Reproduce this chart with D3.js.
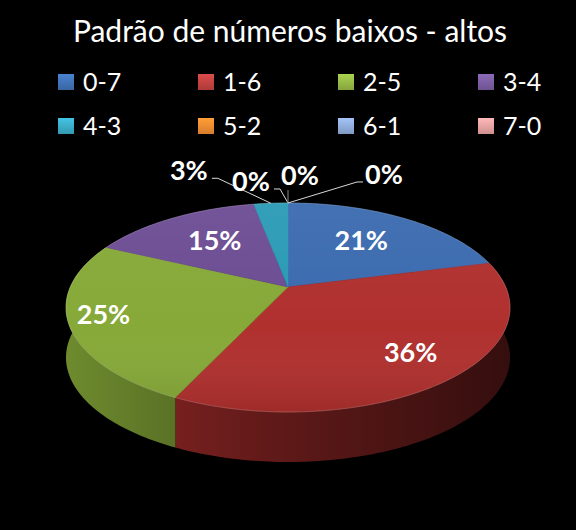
<!DOCTYPE html>
<html>
<head>
<meta charset="utf-8">
<script src="https://cdn.jsdelivr.net/npm/d3@7"></script>
<style>
  body { margin: 0; background: #000; }
  text { font-family: Lato, "Open Sans", sans-serif; fill: #fff; }
</style>
</head>
<body>
<div id="canvas"></div>
<script>
const title = "Padrão de números baixos - altos";
const categories = ["0-7", "1-6", "2-5", "3-4", "4-3", "5-2", "6-1", "7-0"];
const percents = [21, 36, 25, 15, 3, 0, 0, 0];
const pieColours = ["#3a6aaf", "#b0302e", "#86a938", "#6c4c93", "#2a9ab5", "#f0872e", "#8eaad8", "#e09c9a"];
const legendColours = ["#3f72b5", "#c0423f", "#94b845", "#7a5ca0", "#3aaac6", "#f08a30", "#8eaad8", "#e6a0a0"];

const width = 576;
const height = 530;

const svg = d3.select("#canvas").append("svg")
    .attr("width", width)
    .attr("height", height)
    .style("background", "#000");

// title
svg.append("text")
    .attr("x", 290)
    .attr("y", 42)
    .attr("text-anchor", "middle")
    .style("font-size", "30px")
    .text(title);

// legend, 4 columns x 2 rows
const colour = d3.scaleOrdinal().domain(categories).range(pieColours);
const legColour = d3.scaleOrdinal().domain(categories).range(legendColours);
const col = d3.scalePoint().domain([0, 1, 2, 3]).range([58, 478]);
const row = d3.scalePoint().domain([0, 1]).range([82, 126]);

const defs = svg.append("defs");
categories.forEach((c, i) => {
    const gr = defs.append("linearGradient").attr("id", "lg" + i)
        .attr("x1", 0).attr("y1", 0).attr("x2", 0).attr("y2", 1);
    gr.append("stop").attr("offset", "0%").attr("stop-color", d3.color(legColour(c)).brighter(0.4));
    gr.append("stop").attr("offset", "100%").attr("stop-color", d3.color(legColour(c)).darker(0.3));
});

const legend = svg.append("g").selectAll("g").data(categories).enter().append("g")
    .attr("transform", (d, i) => `translate(${col(i % 4)},${row(Math.floor(i / 4))})`);
legend.append("rect")
    .attr("x", 0).attr("y", -8)
    .attr("width", 16).attr("height", 16)
    .attr("fill", (d, i) => `url(#lg${i})`);
legend.append("text")
    .attr("x", 25)
    .attr("dy", "0.36em")
    .style("font-size", "25px")
    .text(d => d);

// 3d pie, simple perspective projection of a tilted disc
const cx = 288, cy = 287;
const k = 0.196;      // perspective strength
const sx = 217.7;     // horizontal radius
const sy = 100.5;     // vertical radius
const depth = 50;     // thickness of the disc

function proj(r, a, z) {
    const u = r * Math.sin(a), v = r * Math.cos(a);
    const w = 1 + k * v;
    return [cx + sx * u / w, cy - sy * v / w + (z || 0)];
}

const pie = d3.pie().sort(null).value(d => d.value);
const arcs = pie(categories.map((c, i) => ({ name: c, value: percents[i] })));
const drawn = arcs.filter(d => d.endAngle > d.startAngle);

const step = Math.PI / 180;
function arcPoints(a0, a1, z) {
    const n = Math.max(1, Math.ceil((a1 - a0) / step));
    return d3.range(n + 1).map(j => proj(1, a0 + (a1 - a0) * j / n, z));
}

// wall shading: light from the left, darker to the right
const shade = (c, f) => { const q = d3.rgb(c); return d3.rgb(q.r * f, q.g * f, q.b * f); };
drawn.forEach((d, i) => {
    const gr = defs.append("linearGradient").attr("id", "wall" + i)
        .attr("gradientUnits", "userSpaceOnUse")
        .attr("x1", cx - 222).attr("y1", 0).attr("x2", cx + 222).attr("y2", 0);
    gr.append("stop").attr("offset", "0%").attr("stop-color", shade(colour(d.data.name), 0.82));
    gr.append("stop").attr("offset", "45%").attr("stop-color", shade(colour(d.data.name), 0.55));
    gr.append("stop").attr("offset", "100%").attr("stop-color", shade(colour(d.data.name), 0.3));
});

const line = d3.line();
const walls = svg.append("g");
walls.selectAll("path").data(drawn).enter().append("path")
    .attr("d", d => line(arcPoints(d.startAngle, d.endAngle).concat(arcPoints(d.startAngle, d.endAngle, depth).reverse())) + "Z")
    .attr("fill", (d, i) => `url(#wall${i})`);

// top face gradient overlay
const tg = defs.append("linearGradient").attr("id", "topShade")
    .attr("x1", 0).attr("y1", 0).attr("x2", 0).attr("y2", 1);
tg.append("stop").attr("offset", "0%").attr("stop-color", "#fff").attr("stop-opacity", 0.05);
tg.append("stop").attr("offset", "60%").attr("stop-color", "#fff").attr("stop-opacity", 0);
tg.append("stop").attr("offset", "100%").attr("stop-color", "#000").attr("stop-opacity", 0.1);

const topFace = svg.append("g");
topFace.selectAll("path").data(drawn).enter().append("path")
    .attr("d", d => line([proj(0, 0)].concat(arcPoints(d.startAngle, d.endAngle))) + "Z")
    .attr("fill", d => colour(d.data.name))
    .attr("stroke", d => colour(d.data.name))
    .attr("stroke-width", 0.5);

topFace.append("path")
    .attr("d", line(arcPoints(0, 2 * Math.PI)) + "Z")
    .attr("fill", "url(#topShade)")
    .attr("stroke", "#ffffff")
    .attr("stroke-opacity", 0.18)
    .attr("stroke-width", 1);

// data labels
const labelR = [0.6, 0.78, 0.85, 0.6];
const outside = [[-82, -33], [-37, -22], [12, -28], [96, -29]];
const labels = svg.append("g");
arcs.forEach((d, i) => {
    const mid = (d.startAngle + d.endAngle) / 2;
    const txt = Math.round(d.data.value) + "%";
    if (i < labelR.length) {
        const p = proj(labelR[i], mid);
        labels.append("text")
            .attr("x", p[0]).attr("y", p[1] - 3)
            .attr("dy", "0.36em")
            .attr("text-anchor", "middle")
            .style("font-size", "27px")
            .style("font-weight", "bold")
            .text(txt);
    } else {
        const rim = proj(1, mid);
        const o = outside[i - labelR.length];
        const lx = rim[0] + o[0], ly = rim[1] + o[1];
        let pts;
        if (o[0] < -20) pts = [[lx + 23, ly + 8], [lx + 29, ly + 8], rim];
        else if (o[0] > 20) pts = [[lx - 21, ly + 8], [lx - 27, ly + 8], rim];
        else pts = [[rim[0], ly + 15], rim];
        labels.append("path")
            .attr("d", line(pts))
            .attr("fill", "none")
            .attr("stroke", Math.abs(o[0]) > 20 ? "#d9d9d9" : "#8c8c8c")
            .attr("stroke-width", 1);
        labels.append("text")
            .attr("x", lx).attr("y", ly)
            .attr("dy", "0.36em")
            .attr("text-anchor", "middle")
            .style("font-size", "27px")
            .style("font-weight", "bold")
            .text(txt);
    }
});
</script>
</body>
</html>
